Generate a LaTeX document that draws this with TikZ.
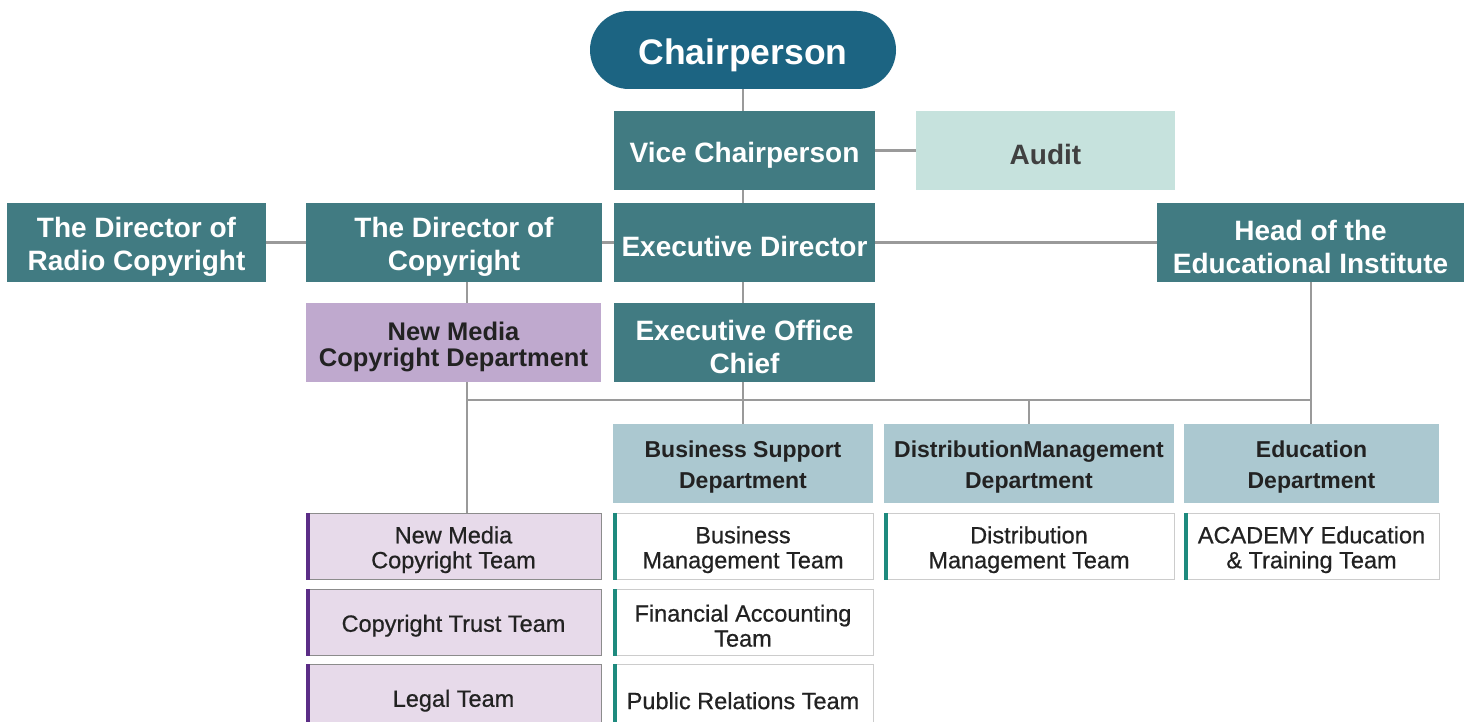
\documentclass[tikz,border=0pt]{standalone}
\usepackage{fontspec}
\setmainfont{Liberation Sans}
\newfontfamily\medfont[FakeBold=0.6]{Liberation Sans}
\definecolor{chairc}{HTML}{1C6482}
\definecolor{tealc}{HTML}{417B82}
\definecolor{auditc}{HTML}{C6E2DD}
\definecolor{purpc}{HTML}{BFA9CE}
\definecolor{deptc}{HTML}{ABC8D0}
\definecolor{lpurp}{HTML}{E7DAEA}
\definecolor{barpurp}{HTML}{5B2D86}
\definecolor{barteal}{HTML}{1E8A7E}
\definecolor{linec}{HTML}{9A9A9A}
\definecolor{txtd}{HTML}{222222}
\newcommand{\ts}{\rule{0pt}{1.04em}}
\tikzset{
  box/.style={rectangle, inner sep=2pt, align=center, font=\bfseries},
  topbox/.style={box, fill=tealc, text=white, font=\bfseries\fontsize{28}{33}\selectfont},
  deptbox/.style={box, fill=deptc, text=txtd, font=\bfseries\fontsize{23}{31}\selectfont},
  teambox/.style={rectangle, align=center, text=txtd, draw=#1, line width=1pt, font=\medfont\fontsize{23.5}{25}\selectfont},
  conn/.style={draw=linec, line width=2.6pt},
}
\begin{document}
\begin{tikzpicture}[x=1pt,y=-1pt]
\useasboundingbox (0,0) rectangle (1474,722);
% top level
\node[box, fill=chairc, text=white, rounded corners=39pt, minimum width=306pt, minimum height=78pt, font=\bfseries\fontsize{35.5}{38}\selectfont] (chair) at (743,50) {\ts Chairperson};
\node[topbox, minimum width=261pt, minimum height=79pt] (vice) at (744.5,150.5) {\ts Vice Chairperson};
\node[box, fill=auditc, text={black!75}, minimum width=259pt, minimum height=79pt, font=\bfseries\fontsize{28}{33}\selectfont] (audit) at (1045.5,150.5) {\ts Audit};
\node[topbox, minimum width=259pt, minimum height=79pt] (radio) at (136.5,242.5) {\ts The Director of\\Radio Copyright};
\node[topbox, minimum width=296pt, minimum height=79pt] (dcopy) at (454,242.5) {\ts The Director of\\Copyright};
\node[topbox, minimum width=261pt, minimum height=79pt] (exec) at (744.5,242.5) {\ts Executive Director};
\node[topbox, minimum width=307pt, minimum height=79pt] (head) at (1310.5,242.5) {\ts Head of the\\Educational Institute};
\node[box, fill=purpc, text=txtd, minimum width=295pt, minimum height=79pt, font=\bfseries\fontsize{25.5}{26}\selectfont] (nmd) at (453.5,342.5) {\ts New Media\\Copyright Department};
\node[topbox, minimum width=261pt, minimum height=79pt] (eoc) at (744.5,342.5) {\ts Executive Office\\Chief};
% departments
\node[deptbox, minimum width=260pt, minimum height=79pt] (bsd) at (743,463.5) {\ts Business Support\\Department};
\node[deptbox, minimum width=290pt, minimum height=79pt] (dmd) at (1029,463.5) {\ts DistributionManagement\\Department};
\node[deptbox, minimum width=255pt, minimum height=79pt] (edd) at (1311.5,463.5) {\ts Education\\Department};
% teams
\node[teambox=black!45, fill=lpurp, minimum width=295pt, minimum height=66pt] (t1) at (453.5,546) {\ts New Media\\Copyright Team};
\node[teambox=black!45, fill=lpurp, minimum width=295pt, minimum height=66pt] (t2) at (453.5,622) {\ts Copyright Trust Team};
\node[teambox=black!45, fill=lpurp, minimum width=295pt, minimum height=66pt] (t3) at (453.5,697) {\ts Legal Team};
\node[teambox=black!20, fill=white, minimum width=260pt, minimum height=66pt] (b1) at (743,546) {\ts Business\\Management Team};
\node[teambox=black!20, fill=white, minimum width=260pt, minimum height=66pt] (b2) at (743,622) {\ts Financial Accounting\\Team};
\node[teambox=black!20, fill=white, minimum width=260pt, minimum height=66pt] (b3) at (743,697) {\ts Public Relations Team};
\node[teambox=black!20, fill=white, minimum width=290pt, minimum height=66pt] (d1) at (1029,546) {\ts Distribution\\Management Team};
\node[teambox=black!20, fill=white, minimum width=255pt, minimum height=66pt] (e1) at (1311.5,546) {\ts ACADEMY Education\\\& Training Team};
% left bars
\foreach \n in {t1,t2,t3}{\fill[barpurp] (\n.north west) rectangle ([xshift=4pt]\n.south west);}
\foreach \n in {b1,b2,b3,d1,e1}{\fill[barteal] (\n.north west) rectangle ([xshift=4pt]\n.south west);}
% connectors
\coordinate (busL) at (467,400);
\coordinate (busR) at (1311,400);
\draw[conn] (chair.south) -- (chair.south |- vice.north);
\draw[conn] (vice.east) -- (audit.west);
\draw[conn] (vice.south -| chair.south) -- (exec.north -| chair.south);
\draw[conn] (radio.east) -- (dcopy.west);
\draw[conn] (dcopy.east) -- (exec.west);
\draw[conn] (exec.east) -- (head.west);
\draw[conn] (dcopy.south -| busL) -- (nmd.north -| busL);
\draw[conn] (exec.south -| chair.south) -- (eoc.north -| chair.south);
\draw[conn] (busL) -- (busR);
\draw[conn] (head.south -| busR) -- (edd.north -| busR);
\draw[conn] (eoc.south -| chair.south) -- (bsd.north -| chair.south);
\draw[conn] (busL -| dmd.north) -- (dmd.north);
\draw[conn] (nmd.south -| busL) -- (t1.north -| busL);
\end{tikzpicture}
\end{document}
